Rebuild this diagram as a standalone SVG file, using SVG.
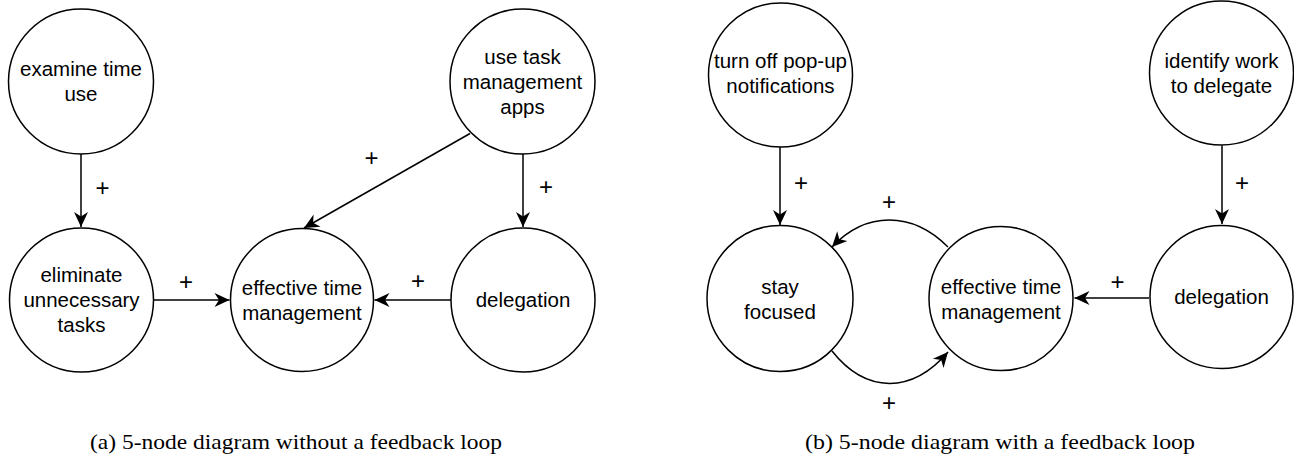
<svg xmlns="http://www.w3.org/2000/svg" width="1294" height="457" viewBox="0 0 1294 457">
  <style>
    .node circle { fill: #ffffff; stroke: #000000; stroke-width: 1.5; }
    .node text { font-family: "Liberation Sans", Arial, Helvetica, sans-serif; font-size: 20.5px; fill: #000000; text-anchor: middle; }
    .sign { font-family: "Liberation Sans", Arial, Helvetica, sans-serif; font-size: 24px; fill: #000000; text-anchor: middle; }
    .edge { fill: none; stroke: #000000; stroke-width: 1.5; marker-end: url(#arrow); }
    .caption { font-family: "Liberation Serif", "Times New Roman", serif; font-size: 21px; fill: #000000; }
  </style>
  <defs>
    <!-- notched "classic" arrowhead -->
    <marker id="arrow" markerUnits="userSpaceOnUse" markerWidth="18" markerHeight="18" viewBox="0 0 18 18" refX="16" refY="9" orient="auto">
      <path d="M16,9 L1,2 L5.5,9 L1,16 Z" fill="#000000"/>
    </marker>
  </defs>
  <rect width="1294" height="457" fill="#ffffff"/>

  <!-- connectors -->
  <g id="connectors">
    <!-- panel (a) -->
    <path class="edge" d="M81,154 L81,227"/>
    <path class="edge" d="M153.5,300 L229.5,300"/>
    <path class="edge" d="M451,300 L374.5,300"/>
    <path class="edge" d="M523,154 L523,227"/>
    <path class="edge" d="M470,133.5 L304,228"/>
    <!-- panel (b) -->
    <path class="edge" d="M780,146 L780,225"/>
    <path class="edge" d="M1222,145.5 L1222,224"/>
    <path class="edge" d="M1149,298 L1074.5,298"/>
    <path class="edge" d="M948,247 C912,211 866,211 832,247"/>
    <path class="edge" d="M832,351 C866,394 912,394 948,352"/>
  </g>

  <!-- polarity labels -->
  <g id="signs">
    <text class="sign" x="102.5" y="196">+</text>
    <text class="sign" x="186" y="290">+</text>
    <text class="sign" x="546" y="195">+</text>
    <text class="sign" x="418" y="289">+</text>
    <text class="sign" x="371.5" y="165.5">+</text>
    <text class="sign" x="801" y="191">+</text>
    <text class="sign" x="889" y="209.5">+</text>
    <text class="sign" x="889" y="411">+</text>
    <text class="sign" x="1242" y="191">+</text>
    <text class="sign" x="1117.5" y="290">+</text>
  </g>

  <!-- panel (a) nodes -->
  <g id="a-examine" class="node">
    <circle cx="81" cy="81.5" r="72.5"/>
    <text x="81" y="76">examine time</text>
    <text x="81" y="101">use</text>
  </g>
  <g id="a-eliminate" class="node">
    <circle cx="81.5" cy="300" r="72"/>
    <text x="81.5" y="282">eliminate</text>
    <text x="81.5" y="307">unnecessary</text>
    <text x="81.5" y="332">tasks</text>
  </g>
  <g id="a-effective" class="node">
    <circle cx="302" cy="300" r="71.5"/>
    <text x="302" y="295">effective time</text>
    <text x="302" y="320">management</text>
  </g>
  <g id="a-apps" class="node">
    <circle cx="522.5" cy="81.5" r="72.5"/>
    <text x="522.5" y="63.5">use task</text>
    <text x="522.5" y="88.5">management</text>
    <text x="522.5" y="113.5">apps</text>
  </g>
  <g id="a-delegation" class="node">
    <circle cx="523" cy="300" r="72"/>
    <text x="523" y="307">delegation</text>
  </g>

  <!-- panel (b) nodes -->
  <g id="b-popup" class="node">
    <circle cx="780.5" cy="75" r="72"/>
    <text x="780.5" y="68">turn off pop-up</text>
    <text x="780.5" y="93">notifications</text>
  </g>
  <g id="b-focused" class="node">
    <circle cx="780" cy="298.5" r="73"/>
    <text x="780" y="293.5">stay</text>
    <text x="780" y="318.5">focused</text>
  </g>
  <g id="b-effective" class="node">
    <circle cx="1001" cy="298.5" r="72"/>
    <text x="1001" y="293.5">effective time</text>
    <text x="1001" y="318.5">management</text>
  </g>
  <g id="b-identify" class="node">
    <circle cx="1221.5" cy="73" r="72"/>
    <text x="1221.5" y="67.5">identify work</text>
    <text x="1221.5" y="92.5">to delegate</text>
  </g>
  <g id="b-delegation" class="node">
    <circle cx="1221.5" cy="297" r="71.5"/>
    <text x="1221.5" y="304">delegation</text>
  </g>

  <!-- captions -->
  <text class="caption" x="90" y="449" textLength="412" lengthAdjust="spacingAndGlyphs">(a) 5-node diagram without a feedback loop</text>
  <text class="caption" x="805" y="449" textLength="390" lengthAdjust="spacingAndGlyphs">(b) 5-node diagram with a feedback loop</text>
</svg>
